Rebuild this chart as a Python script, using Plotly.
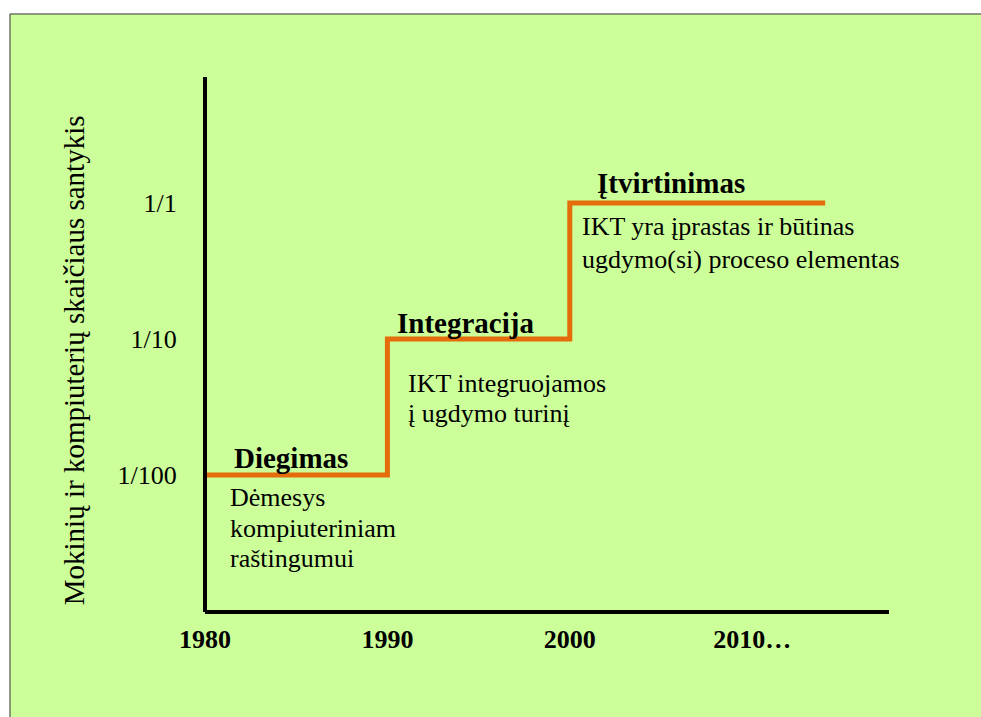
import math
import plotly.graph_objects as go

# ---- data ----
step_years = [1980, 1990, 2000, 2014]
step_ratio = [0.01, 0.1, 1, 1]

y_tick_vals = [0.01, 0.1, 1]
y_tick_text = ["1/100", "1/10", "1/1"]
x_tick_vals = [1980, 1990, 2000, 2010]
x_tick_text = ["1980", "1990", "2000", "2010…"]

phase_names = ["Diegimas", "Integracija", "Įtvirtinimas"]
phase_years = [1980, 1990, 2000]
phase_levels = [0.01, 0.1, 1]
phase_desc = [
    ["Dėmesys", "kompiuteriniam", "raštingumui"],
    ["IKT integruojamos", "į ugdymo turinį"],
    ["IKT yra įprastas ir būtinas", "ugdymo(si) proceso elementas"],
]
y_title = "Mokinių ir kompiuterių skaičiaus santykis"

# ---- style / placement ----
FONT = "Liberation Serif"
ORANGE = "#E46C0A"
GREEN = "#CCFF99"
name_shift = [(27, 17), (8, 16), (25, 20)]
desc_shift = [(23, [-22, -53, -83]), (19, [-45, -75]), (10, [-24, -57])]

fig = go.Figure()
fig.add_trace(go.Scatter(
    x=step_years, y=step_ratio, mode="lines", line_shape="hv",
    line=dict(color=ORANGE, width=5), showlegend=False, hoverinfo="skip"))

annotations = []
for i, name in enumerate(phase_names):
    ly = math.log10(phase_levels[i])  # annotations on log axes use log10 units
    xs, ys = name_shift[i]
    annotations.append(dict(
        x=phase_years[i], y=ly, yref="y", xref="x",
        text="<b>%s</b>" % name, showarrow=False, xanchor="left", yanchor="middle",
        xshift=xs, yshift=ys, font=dict(family=FONT, size=29, color="black")))
    dxs, dys = desc_shift[i]
    for line, dy in zip(phase_desc[i], dys):
        annotations.append(dict(
            x=phase_years[i], y=ly, xref="x", yref="y",
            text=line, showarrow=False, xanchor="left", yanchor="middle",
            xshift=dxs, yshift=dy, font=dict(family=FONT, size=26, color="black")))

annotations.append(dict(
    x=-0.192, y=0.47, xref="paper", yref="paper", text=y_title, textangle=-90,
    showarrow=False, xanchor="center", yanchor="middle",
    font=dict(family=FONT, size=29, color="black")))

shapes = [
    dict(type="rect", xref="paper", yref="paper", x0=-0.2851, x1=1.3, y0=-0.4, y1=1.1178,
         fillcolor=GREEN, line=dict(color="#333333", width=1), layer="below"),
    dict(type="line", xref="paper", yref="paper", x0=0, x1=0, y0=0, y1=1,
         line=dict(color="black", width=4)),
    dict(type="line", xref="paper", yref="paper", x0=0, x1=1, y0=0, y1=0,
         line=dict(color="black", width=4)),
]

fig.update_layout(
    width=981, height=717,
    margin=dict(l=205, r=92, t=77, b=105),
    paper_bgcolor="white", plot_bgcolor="rgba(0,0,0,0)",
    showlegend=False, annotations=annotations, shapes=shapes,
    xaxis=dict(range=[1980, 2017.5], tickvals=x_tick_vals, ticktext=x_tick_text,
               showgrid=False, zeroline=False, showline=False,
               ticks="outside", ticklen=4, tickcolor="rgba(0,0,0,0)",
               tickfont=dict(family=FONT, size=26, color="black", weight="bold")),
    yaxis=dict(type="log", range=[-3.007, 0.926], tickvals=y_tick_vals, ticktext=y_tick_text,
               showgrid=False, zeroline=False, showline=False,
               ticks="outside", ticklen=22, tickcolor="rgba(0,0,0,0)",
               tickfont=dict(family=FONT, size=26, color="black")),
)

fig.write_html("out.html", config={"displayModeBar": False},
               post_script="document.body.style.margin='0';document.body.style.overflow='hidden';")
